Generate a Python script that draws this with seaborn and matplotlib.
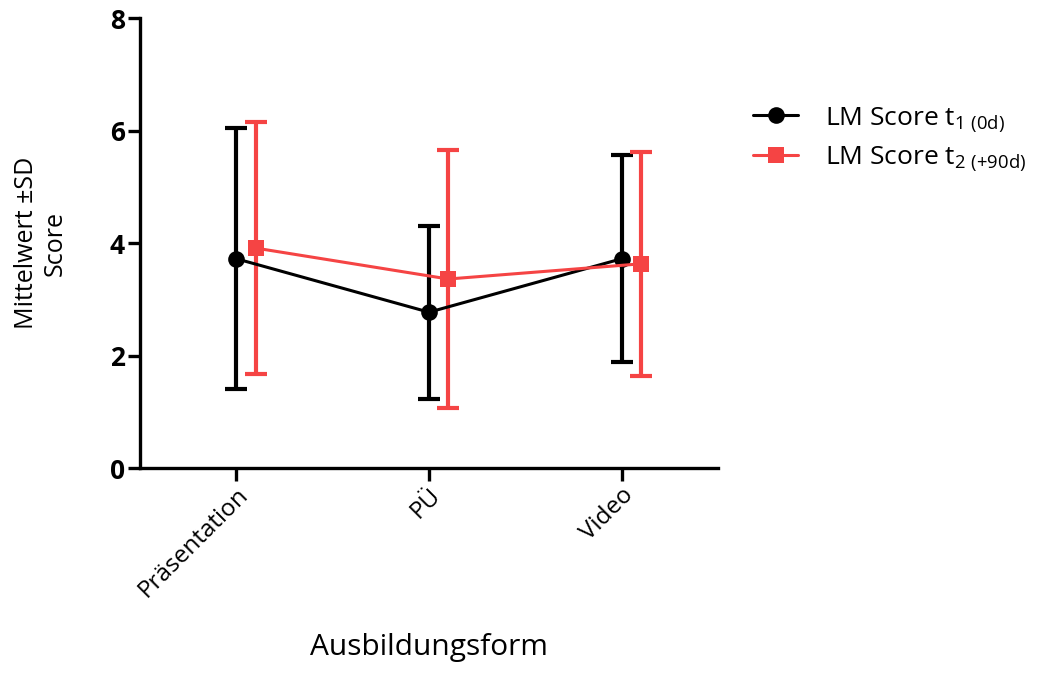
import numpy as np
import pandas as pd
import matplotlib
matplotlib.use("Agg")
import matplotlib.pyplot as plt
import seaborn as sns

# values
categories = ["Präsentation", "PÜ", "Video"]
t1_mean = [3.72, 2.77, 3.72]
t1_sd = [2.32, 1.54, 1.84]
t2_mean = [3.91, 3.36, 3.63]
t2_sd = [2.24, 2.30, 1.99]
series_labels = [r"LM Score t$_{\mathregular{1\ (0d)}}$",
                 r"LM Score t$_{\mathregular{2\ (+90d)}}$"]

sns.set_theme(style="white")
plt.rcParams['font.family'] = ['Open Sans', 'DejaVu Sans']
plt.rcParams['mathtext.fontset'] = 'custom'
plt.rcParams['mathtext.rm'] = 'Open Sans'
plt.rcParams['text.color'] = 'black'
plt.rcParams['axes.labelcolor'] = 'black'
plt.rcParams['xtick.color'] = 'black'
plt.rcParams['ytick.color'] = 'black'

black = "#000000"
red = "#F54444"

fig = plt.figure(figsize=(10.38, 6.77), dpi=100)
ax = fig.add_axes([0.1349, 0.3087, 0.5568, 0.6647])

pos = np.arange(len(categories))
series = [
    (t1_mean, t1_sd, black, "o", 0.0, series_labels[0], 12),
    (t2_mean, t2_sd, red, "s", 0.1, series_labels[1], 11),
]

for mean, sd, col, mk, off, lab, ms in series:
    x = pos + off
    df = pd.DataFrame({"x": x, "y": mean})
    ax.errorbar(x, mean, yerr=sd, fmt="none", ecolor=col, elinewidth=3,
                capsize=8, capthick=3, zorder=2)
    sns.lineplot(data=df, x="x", y="y", ax=ax, color=col, marker=mk,
                 markersize=ms, markeredgewidth=0, linewidth=2.2,
                 label=lab, zorder=3)

ax.set_xlim(-0.5, 2.5)
ax.set_ylim(0, 8)
ax.set_yticks([0, 2, 4, 6, 8])
ax.set_xticks(pos)
ax.set_xticklabels(categories, rotation=45, ha="right", rotation_mode="anchor",
                   fontsize=17.5)
for t in ax.get_yticklabels():
    t.set_fontweight("bold")
    t.set_fontsize(19)

for s in ["top", "right"]:
    ax.spines[s].set_visible(False)
for s in ["left", "bottom"]:
    ax.spines[s].set_linewidth(2.4)
    ax.spines[s].set_color("black")
ax.tick_params(axis="both", direction="out", length=9, width=2.4, color="black",
               left=True, bottom=True, pad=2)

ax.set_xlabel("Ausbildungsform", fontsize=21.5, labelpad=22)
ax.set_ylabel("Mittelwert ±SD\nScore", fontsize=18, labelpad=30)

ax.legend(loc="upper left", bbox_to_anchor=(1.02, 0.86), frameon=False,
          fontsize=19, handlelength=1.7, handletextpad=1.0, labelspacing=0.4)

fig.savefig("out.png", dpi=100)
